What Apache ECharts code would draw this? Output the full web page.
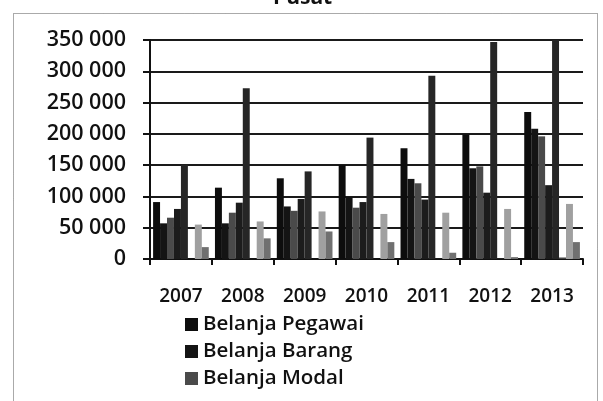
<!DOCTYPE html>
<html>
<head>
<meta charset="utf-8">
<script src="https://cdn.jsdelivr.net/npm/echarts@6/dist/echarts.min.js"></script>
<style>
  html, body { margin: 0; padding: 0; background: #fff; }
  #chart { width: 603px; height: 401px; }
</style>
</head>
<body>
<div id="chart"></div>
<script>
// tahun anggaran
var years = ['2007', '2008', '2009', '2010', '2011', '2012', '2013'];

// nilai belanja pusat
var belanjaPegawai = [91000, 114000, 129000, 150000, 177000, 199000, 235000];
var belanjaBarang  = [57000, 57000, 84000, 99000, 128000, 145000, 208000];
var belanjaModal   = [66000, 74000, 77000, 82000, 121000, 148000, 196000];
var bungaUtang     = [80000, 90000, 96000, 91000, 95000, 106000, 118000];
var subsidi        = [151000, 273000, 140000, 194000, 293000, 347000, 350000];
var belanjaHibah   = [0, 0, 0, 0, 300, 500, 2400];
var bantuanSosial  = [55000, 60000, 76000, 72000, 74000, 80000, 88000];
var belanjaLain    = [19000, 33000, 44000, 27000, 10000, 3000, 27000];

var seriesNames = ['Belanja Pegawai', 'Belanja Barang', 'Belanja Modal', 'Pembayaran Bunga Utang',
                   'Subsidi', 'Belanja Hibah', 'Bantuan Sosial', 'Belanja Lain-lain'];
var seriesData = [belanjaPegawai, belanjaBarang, belanjaModal, bungaUtang,
                  subsidi, belanjaHibah, bantuanSosial, belanjaLain];
// hanya tiga keterangan pertama yang terlihat di gambar
var legendNames = ['Belanja Pegawai', 'Belanja Barang', 'Belanja Modal'];
var colors = ['#0d0d0d', '#141414', '#4a4a4a', '#1c1c1c', '#262626', '#444444', '#a0a0a0', '#707070'];

var font = '"Open Sans", "DejaVu Sans", sans-serif';

var myChart = echarts.init(document.getElementById('chart'));

var series = [];
for (var i = 0; i < seriesNames.length; i++) {
    series.push({
        name: seriesNames[i],
        type: 'bar',
        barGap: '0%',
        barCategoryGap: '10%',
        itemStyle: { color: colors[i] },
        data: seriesData[i]
    });
}

var option = {
    animation: false,
    backgroundColor: '#fff',
    color: colors,
    title: {
        text: 'Pusat',
        left: 268,
        top: -17,
        textStyle: { fontFamily: font, fontSize: 21, fontWeight: 'bold', color: '#111' }
    },
    graphic: [{
        type: 'rect',
        shape: { x: 13.5, y: 13.5, width: 584, height: 400 },
        style: { fill: 'none', stroke: '#555', lineWidth: 1, lineDash: [1, 1] }
    }],
    legend: {
        data: legendNames,
        orient: 'vertical',
        left: 180,
        top: 309,
        itemWidth: 13,
        itemHeight: 13,
        itemGap: 6,
        icon: 'rect',
        textStyle: { fontFamily: font, fontSize: 20.5, fontWeight: 600, color: '#111' }
    },
    grid: {
        left: 150,
        right: 20,
        top: 40,
        bottom: 142,
        containLabel: false
    },
    xAxis: {
        type: 'category',
        data: years,
        axisLine: { lineStyle: { color: '#111', width: 2 } },
        axisTick: { show: true, length: 6, lineStyle: { color: '#111', width: 2 } },
        axisLabel: { margin: 28, fontFamily: font, fontSize: 19, fontWeight: 600, color: '#111' }
    },
    yAxis: {
        type: 'value',
        min: 0,
        max: 350000,
        interval: 50000,
        axisLine: { show: true, lineStyle: { color: '#111', width: 2 } },
        axisTick: { show: true, length: 7, lineStyle: { color: '#111', width: 2 } },
        splitLine: { lineStyle: { color: '#1a1a1a', width: 2 } },
        axisLabel: {
            margin: 24,
            fontFamily: font,
            fontSize: 21.5,
            fontWeight: 600,
            color: '#111',
            formatter: function (v) {
                return String(v).replace(/\B(?=(\d{3})+(?!\d))/g, ' ');
            }
        }
    },
    series: series
};

myChart.setOption(option, true);
</script>
</body>
</html>
